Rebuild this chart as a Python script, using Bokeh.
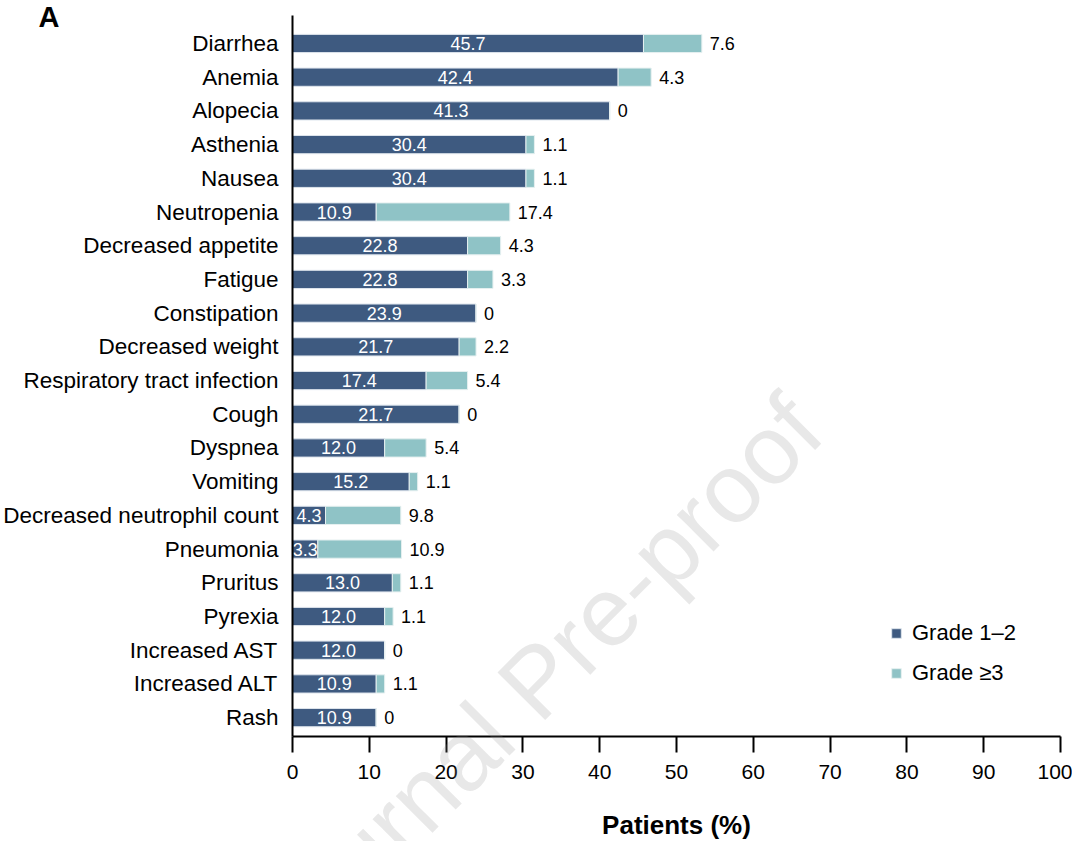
from bokeh.plotting import figure
from bokeh.models import Range1d, FixedTicker, ColumnDataSource, Legend, LegendItem, Label
from bokeh.embed import file_html
from bokeh.resources import INLINE
from bokeh.core.properties import value

categories = ["Diarrhea", "Anemia", "Alopecia", "Asthenia", "Nausea", "Neutropenia",
              "Decreased appetite", "Fatigue", "Constipation", "Decreased weight",
              "Respiratory tract infection", "Cough", "Dyspnea", "Vomiting",
              "Decreased neutrophil count", "Pneumonia", "Pruritus", "Pyrexia",
              "Increased AST", "Increased ALT", "Rash"]
grade12 = [45.7, 42.4, 41.3, 30.4, 30.4, 10.9, 22.8, 22.8, 23.9, 21.7, 17.4, 21.7,
           12.0, 15.2, 4.3, 3.3, 13.0, 12.0, 12.0, 10.9, 10.9]
grade3 = [7.6, 4.3, 0, 1.1, 1.1, 17.4, 4.3, 3.3, 0, 2.2, 5.4, 0, 5.4, 1.1, 9.8, 10.9,
          1.1, 1.1, 0, 1.1, 0]
x_ticks = [0, 10, 20, 30, 40, 50, 60, 70, 80, 90, 100]

FONT = "Liberation Sans"
DARK = "#3e5a80"
LIGHT = "#8fc3c6"
W, H = 1072, 841

n = len(categories)
ypos = [n - 1 - i for i in range(n)]
total = [a + b for a, b in zip(grade12, grade3)]
mid = [a / 2 for a in grade12]
lab12 = [f"{a:.1f}" for a in grade12]
lab3 = ["0" if b == 0 else f"{b:.1f}" for b in grade3]

src = ColumnDataSource(dict(y=ypos, g12=grade12, g3=grade3, total=total, mid=mid,
                            lab12=lab12, lab3=lab3))

p = figure(output_backend="svg", toolbar_location=None,
           frame_width=768, frame_height=721,
           min_border_left=292, min_border_right=12, min_border_top=15, min_border_bottom=105,
           x_range=Range1d(0, 100), y_range=Range1d(-0.56, n - 1 + 0.83))
p.outline_line_color = None
p.xgrid.visible = False
p.ygrid.visible = False
p.background_fill_color = "white"
p.border_fill_color = "white"

r1 = p.hbar(y="y", left=0, right="g12", height=0.54, source=src,
            fill_color=DARK, line_color="#dde4ec", line_width=1)
r2 = p.hbar(y="y", left="g12", right="total", height=0.54, source=src,
            fill_color=LIGHT, line_color="#e6f0f0", line_width=1)

p.text(x="mid", y="y", text="lab12", source=src, text_color="white",
       text_font=value(FONT), text_font_size="18px",
       text_align="center", text_baseline="middle")
p.text(x="total", y="y", text="lab3", source=src, text_color="black", x_offset=8,
       text_font=value(FONT), text_font_size="18px",
       text_align="left", text_baseline="middle")

# axes
xa = p.xaxis[0]
xa.ticker = FixedTicker(ticks=x_ticks)
xa.axis_label = "Patients (%)"
xa.axis_label_text_font = FONT
xa.axis_label_text_font_style = "bold"
xa.axis_label_text_font_size = "26px"
xa.axis_label_text_color = "black"
xa.axis_label_standoff = 28
xa.major_label_text_font = FONT
xa.major_label_text_font_size = "21px"
xa.major_label_text_color = "black"
xa.major_label_standoff = 12
xa.major_tick_out = 16
xa.major_tick_in = 0
xa.minor_tick_out = 0
xa.minor_tick_in = 0
xa.axis_line_width = 2
xa.major_tick_line_width = 2
xa.axis_line_color = "black"
xa.major_tick_line_color = "black"

ya = p.yaxis[0]
ya.ticker = FixedTicker(ticks=ypos)
ya.major_label_overrides = {y: c for y, c in zip(ypos, categories)}
ya.major_label_text_font = FONT
ya.major_label_text_font_size = "22.5px"
ya.major_label_text_color = "black"
ya.major_label_standoff = 14
ya.major_tick_out = 0
ya.major_tick_in = 0
ya.minor_tick_out = 0
ya.minor_tick_in = 0
ya.major_tick_line_color = None
ya.minor_tick_line_color = None
ya.axis_line_width = 2
ya.axis_line_color = "black"

legend = Legend(items=[LegendItem(label="Grade 1\u20132", renderers=[r1]),
                       LegendItem(label="Grade \u22653", renderers=[r2])],
                location=(598, 50), orientation="vertical",
                glyph_width=12, glyph_height=12, label_standoff=10,
                label_text_font=FONT, label_text_font_size="22px",
                label_text_color="black",
                label_height=22, spacing=14, padding=0, margin=0,
                border_line_color=None, background_fill_alpha=0)
p.add_layout(legend)

# transparent overlay canvas for the panel letter and the watermark
q = figure(output_backend="svg", toolbar_location=None, width=W, height=H,
           x_range=Range1d(0, W), y_range=Range1d(0, H),
           x_axis_location=None, y_axis_location=None, min_border=0)
q.outline_line_color = None
q.xgrid.visible = False
q.ygrid.visible = False
q.background_fill_alpha = 0
q.border_fill_alpha = 0
q.styles = {"position": "absolute", "top": "0px", "left": "0px", "pointer-events": "none"}

wm = Label(x=536, y=H - 680, text="Journal Pre-proof", angle=45, angle_units="deg",
           text_font=FONT, text_font_size="98px", text_color="#8a8a8a", text_alpha=0.2,
           text_align="center", text_baseline="middle")
q.add_layout(wm)

lab_a = Label(x=38, y=H - 32, text="A", text_font=FONT, text_font_style="bold",
              text_font_size="29px", text_color="black",
              text_align="left", text_baseline="bottom")
q.add_layout(lab_a)

open("out.html", "w").write(file_html([p, q], INLINE))
